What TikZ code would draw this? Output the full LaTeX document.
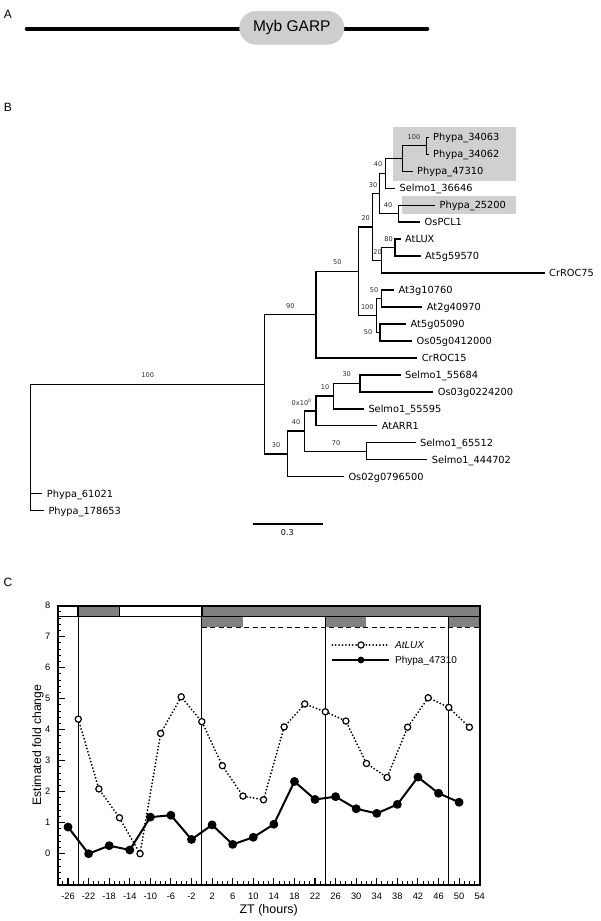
\documentclass[tikz,border=0pt]{standalone}
\usepackage{fontspec}
\setmainfont{Liberation Sans}
\newfontfamily\dvs{DejaVu Sans}
\usetikzlibrary{plotmarks}
\definecolor{hl}{RGB}{208,208,208}
\definecolor{barg}{RGB}{128,128,128}
\definecolor{ovalg}{RGB}{206,206,206}
\definecolor{boot}{RGB}{45,45,45}
\begin{document}
\begin{tikzpicture}[x=1pt,y=-1pt,
  br/.style={line width=1.35pt, line join=miter, line cap=rect},
  leaf/.style={font=\dvs\fontsize{9.8}{10}\selectfont, anchor=base west, inner sep=0pt},
  bs/.style={font=\dvs\fontsize{6.6}{7}\selectfont, text=boot, inner sep=0pt},
  panel/.style={font=\fontsize{12}{14}\selectfont, inner sep=0pt},
  tl/.style={font=\fontsize{9.3}{10}\selectfont, inner sep=0pt},
  leg/.style={font=\fontsize{10}{12}\selectfont, inner sep=0pt, anchor=base west},
  dotline/.style={line width=2pt, line cap=round, dash pattern=on 0pt off 3.4pt},
  solline/.style={line width=2pt, line join=round},
  ocirc/.style={circle, draw=black, fill=white, line width=1.2pt, inner sep=0pt, minimum size=6.2pt},
  fcirc/.style={circle, fill=black, inner sep=0pt, minimum size=6.8pt}
]
\useasboundingbox (0,0) rectangle (600,921);
\fill[white] (0,0) rectangle (600,921);

% ---------- panel labels
\node[panel] (pA) at (8,14) {A};
\node[panel] (pB) at (8,107) {B};
\node[panel] (pC) at (8,582) {C};

% ---------- panel A
\coordinate (aL) at (26.7,29);
\coordinate (aR) at (427.3,29);
\draw[line width=4pt, line cap=round] (aL) -- (aR);
\node[fill=ovalg, rounded corners=16.8pt, minimum width=105pt, minimum height=33.6pt,
      font=\fontsize{15.5}{16}\selectfont, inner sep=0pt] (myb) at (291.8,27.8) {Myb GARP};

% ---------- panel B : tree
\fill[hl] (392.7,127.3) rectangle (516,181);
\fill[hl] (401.7,196) rectangle (516,214.3);

\foreach \i/\nm/\tp in {
  0/Phypa\_34063/428, 1/Phypa\_34062/428, 2/Phypa\_47310/412,
  3/Selmo1\_36646/394.5, 4/Phypa\_25200/434.5, 5/OsPCL1/419.5,
  6/AtLUX/400, 7/At5g59570/420, 8/CrROC75/544,
  9/At3g10760/393.3, 10/At2g40970/421.7, 11/At5g05090/405.5,
  12/Os05g0412000/411.5, 13/CrROC15/416.7, 14/Selmo1\_55684/400,
  15/Os03g0224200/432.7, 16/Selmo1\_55595/363.3, 17/AtARR1/376.7,
  18/Selmo1\_65512/415, 19/Selmo1\_444702/426.7, 20/Os02g0796500/343.3,
  21/Phypa\_61021/41.7, 22/Phypa\_178653/43.3}{
  \coordinate (t\i) at (\tp, {137.3+16.97*\i});
  \node[leaf] (l\i) at ({\tp+5}, {137.3+16.97*\i+3.6}) {\nm};
}

\coordinate (nA) at (426.7,145.79);
\coordinate (nB) at (402.3,158.51);
\coordinate (nC) at (385.7,173.36);
\coordinate (nD) at (398.3,213.67);
\coordinate (nE) at (379.3,193.51);
\coordinate (nF) at (395,247.6);
\coordinate (nG) at (381.7,260.33);
\coordinate (nH) at (372.3,226.92);
\coordinate (nI) at (381.3,298.52);
\coordinate (nJ) at (380,332.45);
\coordinate (nK) at (376.7,315.49);
\coordinate (nL) at (358.3,271.2);
\coordinate (nM) at (316,314.56);
\coordinate (nN) at (360,383.37);
\coordinate (nO) at (333.3,396.09);
\coordinate (nP) at (316,410.94);
\coordinate (nQ) at (366.7,451.25);
\coordinate (nR) at (304.3,431.1);
\coordinate (nS) at (287.7,453.9);
\coordinate (nT) at (264.3,384.23);
\coordinate (root) at (30.7,384.23);

\draw[br] (nA) |- (t0) (nA) |- (t1)
 (nB) |- (nA) (nB) |- (t2)
 (nC) |- (nB) (nC) |- (t3)
 (nD) |- (t4) (nD) |- (t5)
 (nE) |- (nC) (nE) |- (nD)
 (nF) |- (t6) (nF) |- (t7)
 (nG) |- (nF) (nG) |- (t8)
 (nH) |- (nE) (nH) |- (nG)
 (nI) |- (t9) (nI) |- (t10)
 (nJ) |- (t11) (nJ) |- (t12)
 (nK) |- (nI) (nK) |- (nJ)
 (nL) |- (nH) (nL) |- (nK)
 (nM) |- (nL) (nM) |- (t13)
 (nN) |- (t14) (nN) |- (t15)
 (nO) |- (nN) (nO) |- (t16)
 (nP) |- (nO) (nP) |- (t17)
 (nQ) |- (t18) (nQ) |- (t19)
 (nR) |- (nP) (nR) |- (nQ)
 (nS) |- (nR) (nS) |- (t20)
 (nT) |- (nM) (nT) |- (nS)
 (root) |- (nT) (root) |- (t21) (root) |- (t22);

% bootstrap values
\node[bs] (b1) at (414,137.3) {100};
\node[bs] (b2) at (378,164) {40};
\node[bs] (b3) at (373,185) {30};
\node[bs] (b4) at (388,205) {40};
\node[bs] (b5) at (365.7,217.7) {20};
\node[bs] (b6) at (388.5,238.8) {80};
\node[bs] (b7) at (377.5,251.7) {20};
\node[bs] (b8) at (337.3,262) {50};
\node[bs] (b9) at (374,290) {50};
\node[bs] (b10) at (367.3,306.7) {100};
\node[bs] (b11) at (368,331.7) {50};
\node[bs] (b12) at (290.3,305.7) {90};
\node[bs] (b13) at (147.7,375.3) {100};
\node[bs] (b14) at (346.7,374.5) {30};
\node[bs] (b15) at (325,387.5) {10};
\node[bs] (b16) at (301.7,402.3) {0x10\textsuperscript{0}};
\node[bs] (b17) at (336,442.7) {70};
\node[bs] (b18) at (296,422) {40};
\node[bs] (b19) at (276,445) {30};

% scale bar
\coordinate (sb1) at (252.7,524);
\coordinate (sb2) at (323.3,524);
\draw[line width=1.3pt] (sb1) -- (sb2);
\node[font=\dvs\fontsize{8}{9}\selectfont, inner sep=0pt] (sbl) at (287.3,533) {0.3};

% ---------- panel C : chart
\begin{scope}[shift={(201.8,853.7)}, x=5.146pt, y=31pt]
  \fill[barg] (-24,8) rectangle (-16,7.645);
  \fill[barg] (0,8) rectangle (54,7.645);
  \fill[barg] (0,7.645) rectangle (8,7.3);
  \fill[barg] (24,7.645) rectangle (32,7.3);
  \fill[barg] (48,7.645) rectangle (54,7.3);
  \draw[line width=0.9pt, dash pattern=on 5pt off 3.5pt] (0,7.3) -- (54,7.3);
  \draw[line width=1.3pt] (-28,7.645) -- (54,7.645);
  \foreach \t in {-24,-16,0} \draw[line width=1.6pt] (\t,8) -- (\t,7.645);
  \foreach \t in {-24,0,24,48} \draw[line width=0.7pt] (\t,-1) -- (\t,7.645);
  % ticks
  \foreach \t in {-27,...,53} \draw[line width=0.9pt] (\t,-1) -- ++(0pt,3.5pt);
  \foreach \t in {-26,-22,...,54} \draw[line width=1.1pt] (\t,-1) -- ++(0pt,6.5pt);
  \foreach \k in {-4,...,39} \draw[line width=0.9pt] (-28,{\k/5}) -- ++(3.5pt,0pt);
  \foreach \v in {-1,...,8} \draw[line width=1.1pt] (-28,\v) -- ++(7pt,0pt);
  % tick labels
  \foreach \t in {-26,-22,...,54} \node[tl] at (\t,-1.365) {\t};
  \foreach \v in {0,...,8} \node[tl, anchor=east] at (-29.4,\v) {\v};
  % data
  \draw[dotline] plot[mark=*, mark size=3.1pt,
      mark options={solid, fill=white, draw=black, line width=1.2pt}]
    coordinates {(-24,4.34) (-20,2.09) (-16,1.16) (-12,0) (-8,3.88) (-4,5.06)
      (0,4.26) (4,2.84) (8,1.86) (12,1.74) (16,4.09) (20,4.83) (24,4.58)
      (28,4.28) (32,2.91) (36,2.46) (40,4.08) (44,5.03) (48,4.72) (52,4.08)};
  \draw[solline] plot[mark=*, mark size=3.4pt, mark options={solid, fill=black}]
    coordinates {(-26,0.86) (-22,0) (-18,0.26) (-14,0.12) (-10,1.18) (-6,1.24)
      (-2,0.46) (2,0.93) (6,0.30) (10,0.53) (14,0.95) (18,2.33) (22,1.75)
      (26,1.84) (30,1.45) (34,1.30) (38,1.59) (42,2.47) (46,1.95) (50,1.66)};
  \draw[line width=1.9pt] (-28,-1) rectangle (54,8);
\end{scope}

% legend
\coordinate (lg1a) at (332.3,645);
\coordinate (lg1b) at (389,645);
\draw[dotline] (lg1a) -- (lg1b);
\node[ocirc] (lg1m) at (361,645) {};
\node[leg] (lg1t) at (395,648.6) {\itshape AtLUX};
\coordinate (lg2a) at (332.3,660);
\coordinate (lg2b) at (389,660);
\draw[solline] (lg2a) -- (lg2b);
\node[fcirc] (lg2m) at (361,660) {};
\node[leg] (lg2t) at (395,663.6) {Phypa\_47310};

% axis titles
\node[font=\fontsize{12.2}{14}\selectfont, rotate=90, inner sep=0pt] (ylab) at (38,745) {Estimated fold change};
\node[font=\fontsize{12.5}{14}\selectfont, inner sep=0pt] (xlab) at (268.7,910) {ZT (hours)};
\end{tikzpicture}
\end{document}
